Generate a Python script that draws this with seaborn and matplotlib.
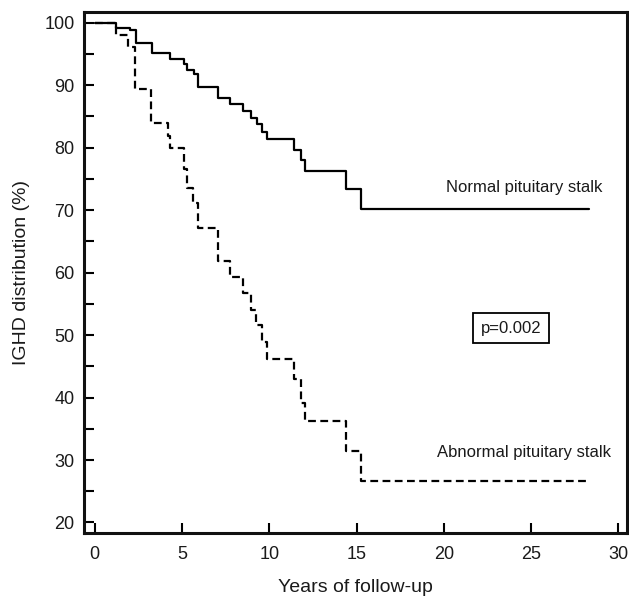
import matplotlib
matplotlib.use('Agg')
import matplotlib.pyplot as plt
import seaborn as sns
import pandas as pd
from matplotlib.ticker import MultipleLocator

# Kaplan-Meier style steps
normal_years = [0, 1.24, 2.0, 2.37, 3.3, 4.3, 5.1, 5.3, 5.66, 5.94, 7.05, 7.75, 8.5,
                8.95, 9.28, 9.57, 9.84, 11.4, 11.8, 12.04, 14.4, 15.24, 28.3]
normal_pct = [100, 99.2, 98.8, 96.8, 95.2, 94.1, 93.3, 92.4, 91.7, 89.7, 87.9, 87.0, 85.8,
              84.8, 83.7, 82.5, 81.3, 79.6, 78.0, 76.3, 73.4, 70.2, 70.2]

abnormal_years = [0, 1.24, 1.92, 2.3, 3.24, 4.22, 4.33, 5.13, 5.3, 5.65, 5.94, 7.05, 7.75,
                  8.5, 8.94, 9.24, 9.56, 9.85, 11.4, 11.8, 12.04, 14.4, 15.24, 28.3]
abnormal_pct = [100, 98.0, 96.1, 89.3, 83.9, 81.9, 80.0, 76.5, 73.6, 71.2, 67.1, 61.9, 59.3,
                56.7, 54.0, 51.6, 48.9, 46.2, 42.9, 39.2, 36.2, 31.4, 26.6, 26.6]

labels = ['Normal pituitary stalk', 'Abnormal pituitary stalk']
p_text = 'p=0.002'

sns.set_style('ticks')
plt.rcParams['font.family'] = ['Liberation Sans', 'DejaVu Sans']

df_n = pd.DataFrame({'years': normal_years, 'pct': normal_pct})
df_a = pd.DataFrame({'years': abnormal_years, 'pct': abnormal_pct})

fig = plt.figure(figsize=(6.29, 5.97), dpi=100)
ax = fig.add_axes([0.134, 0.107, 0.863, 0.873])

sns.lineplot(data=df_n, x='years', y='pct', ax=ax, color='black', linewidth=1.6,
             drawstyle='steps-post', estimator=None)
sns.lineplot(data=df_a, x='years', y='pct', ax=ax, color='black', linewidth=1.6,
             drawstyle='steps-post', estimator=None)
ax.lines[-1].set_linestyle((0, (3.5, 2)))

ax.set_xlim(-0.6, 30.5)
ax.set_ylim(18.3, 101.7)
ax.set_xticks([0, 5, 10, 15, 20, 25, 30])
ax.set_yticks([20, 30, 40, 50, 60, 70, 80, 90, 100])
ax.yaxis.set_minor_locator(MultipleLocator(5))
ax.tick_params(axis='both', which='both', direction='in', width=1.5, labelsize=13,
               color='black', labelcolor='#1a1a1a')
ax.tick_params(axis='y', which='major', length=7, pad=7)
ax.tick_params(axis='y', which='minor', length=7)
ax.tick_params(axis='x', which='major', length=7, pad=9)
for s in ax.spines.values():
    s.set_linewidth(2.2)
    s.set_color('#111111')
    s.set_visible(True)

ax.set_xlabel('Years of follow-up', fontsize=14, labelpad=12, color='#1a1a1a')
ax.set_ylabel('IGHD distribution (%)', fontsize=14, labelpad=10, color='#1a1a1a')

ax.text(29.1, 73.6, labels[0], ha='right', va='center', fontsize=12, color='#1a1a1a')
ax.text(29.6, 31.2, labels[1], ha='right', va='center', fontsize=12, color='#1a1a1a')
ax.text(23.85, 51.1, p_text, ha='center', va='center', fontsize=12, color='#1a1a1a',
        bbox=dict(boxstyle='square,pad=0.45', facecolor='white', edgecolor='black', linewidth=1.3))

fig.savefig('out.png', dpi=100)
